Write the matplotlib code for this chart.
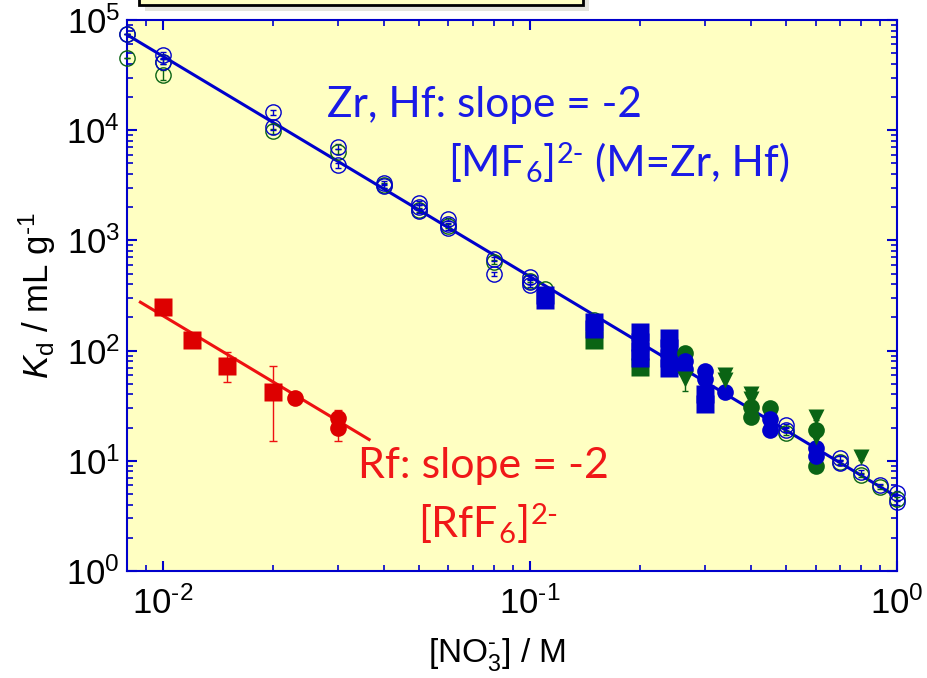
"""Kd vs nitrate concentration for Zr, Hf and Rf (log-log)."""

import math

import matplotlib

matplotlib.use("Agg")
import matplotlib.pyplot as plt
from matplotlib.patches import Rectangle
from matplotlib.ticker import FuncFormatter, NullFormatter

# ---- data ------------------------------------------------------------------
# fitted slope lines (end points)
zrhf_fit_x = [0.008, 1.0]
zrhf_fit_y = [73500, 4.7]
rf_fit_x = [0.0087, 0.0365]
rf_fit_y = [275, 15.6]

# Rf
rf_sq_x = [0.010, 0.012, 0.015, 0.020]
rf_sq_y = [251, 126, 72, 42]
rf_sq_lo = [0, 0, 20, 27]
rf_sq_hi = [0, 0, 26, 31]
rf_ci_x = [0.023, 0.030, 0.030]
rf_ci_y = [37, 24.5, 20]
rf_ci_lo = [0, 0, 5]
rf_ci_hi = [0, 4.5, 0]

# Zr / Hf, open circles (blue and green)
blue_open_x = [0.008, 0.01, 0.01, 0.02, 0.02, 0.03, 0.03, 0.04, 0.04, 0.05, 0.05, 0.05,
               0.06, 0.06, 0.06, 0.08, 0.08, 0.1, 0.1, 0.1, 0.5, 0.5, 0.7, 0.7, 0.8,
               0.9, 1.0, 1.0]
blue_open_y = [74000, 48000, 42000, 14500, 10700, 7100, 4800, 3300, 3100, 2200, 2000, 1850,
               1550, 1400, 1300, 680, 500, 470, 420, 390, 21, 19, 10.6, 9.6, 7.9,
               6.0, 5.1, 4.2]
blue_open_err = [0, 3000, 2500, 900, 600, 400, 250, 150, 120, 90, 80, 70,
                 60, 50, 50, 30, 20, 20, 15, 15, 0.8, 0.7, 0.4, 0.4, 0.3,
                 0.2, 0.2, 0.2]

green_open_x = [0.008, 0.008, 0.01, 0.01, 0.02, 0.03, 0.04, 0.05, 0.06, 0.08, 0.1,
                0.11, 0.15, 0.5, 0.7, 0.8, 0.9, 1.0]
green_open_y = [74000, 45000, 42000, 32000, 9800, 6400, 3150, 1900, 1350, 640, 430,
                360, 190, 18, 9.8, 7.5, 5.8, 4.5]
green_open_err = [0, 0, 2500, 3500, 500, 350, 150, 80, 60, 25, 15,
                  15, 8, 0.7, 0.4, 0.3, 0.2, 0.2]

# Zr / Hf, filled squares
blue_sq_x = [0.11, 0.11, 0.15, 0.15, 0.2, 0.2, 0.2, 0.2, 0.24, 0.24, 0.24, 0.24, 0.3, 0.3]
blue_sq_y = [320, 290, 180, 158, 148, 120, 100, 85, 130, 105, 85, 70, 40, 33]
green_sq_x = [0.15, 0.2]
green_sq_y = [126, 71]

# Zr / Hf, filled circles
green_ci_x = [0.265, 0.4, 0.4, 0.45, 0.6, 0.6]
green_ci_y = [96, 31, 25, 30, 19, 9]
green_ci_err = [0, 3, 3, 2, 1.5, 1]
blue_ci_x = [0.265, 0.265, 0.3, 0.3, 0.34, 0.45, 0.45, 0.6, 0.6]
blue_ci_y = [80, 68, 65, 55, 42, 24, 19, 13, 11]
blue_ci_err = [0, 0, 4, 0, 5, 0, 1.5, 0, 0]

# Zr / Hf, filled down-triangles
green_tri_x = [0.265, 0.34, 0.34, 0.4, 0.4, 0.6, 0.6, 0.8]
green_tri_y = [55, 60, 54, 40, 36, 25, 16.5, 10.8]
green_tri_err = [12, 4, 0, 3, 0, 1.5, 0, 0.6]

# ---- styling ----------------------------------------------------------------
BLUE = "#0000CC"
GREEN = "#0A6414"
RED = "#DD0000"
BG = "#FFFFC2"

plt.rcParams["font.family"] = ["Liberation Sans", "DejaVu Sans"]
plt.rcParams["mathtext.fontset"] = "custom"
plt.rcParams["mathtext.rm"] = "Liberation Sans"
plt.rcParams["mathtext.it"] = "Liberation Sans:italic"
plt.rcParams["mathtext.default"] = "regular"

W, H = 927, 678
fig = plt.figure(figsize=(W / 100, H / 100), dpi=100)
ax = fig.add_axes([127 / W, 107 / H, 770 / W, 551 / H])
ax.set_facecolor(BG)

# cut-off legend box at the top
fig.patches.append(Rectangle((145 / W, (H - 11) / H), 444 / W, 30 / H, transform=fig.transFigure,
                             facecolor="#E4E4DC", edgecolor="none", zorder=0))
fig.patches.append(Rectangle((139 / W, (H - 5) / H), 444 / W, 30 / H, transform=fig.transFigure,
                             facecolor=BG, edgecolor="black", linewidth=2, zorder=1))

ax.set_xscale("log")
ax.set_yscale("log")
ax.set_xlim(0.008, 1.0)
ax.set_ylim(1, 1e5)

# lines
ax.plot(zrhf_fit_x, zrhf_fit_y, color=BLUE, lw=2.2, zorder=3)
ax.plot(rf_fit_x, rf_fit_y, color="#EE1111", lw=2.2, zorder=3)

# open circles
ax.errorbar(green_open_x, green_open_y, yerr=green_open_err, fmt="o", ms=11, mfc="none",
            mec=GREEN, mew=1.0, ecolor=GREEN, elinewidth=1, capsize=2.5, zorder=4, clip_on=False)
ax.errorbar(blue_open_x, blue_open_y, yerr=blue_open_err, fmt="o", ms=11, mfc="none",
            mec=BLUE, mew=1.0, ecolor=BLUE, elinewidth=1, capsize=2.5, zorder=4, clip_on=False)

# filled markers
ax.plot(green_sq_x, green_sq_y, "s", ms=13.5, color=GREEN, mec="none", zorder=5)
ax.plot(blue_sq_x, blue_sq_y, "s", ms=13.5, color=BLUE, mec="none", zorder=5)
ax.errorbar(green_ci_x, green_ci_y, yerr=green_ci_err, fmt="o", ms=12, color=GREEN, mec="none",
            elinewidth=1, capsize=2.5, zorder=5)
ax.errorbar(blue_ci_x, blue_ci_y, yerr=blue_ci_err, fmt="o", ms=12, color=BLUE, mec="none",
            elinewidth=1, capsize=2.5, zorder=6)
ax.errorbar(green_tri_x, green_tri_y, yerr=green_tri_err, fmt="v", ms=12, color=GREEN, mec="none",
            elinewidth=1, capsize=2.5, zorder=6)

# Rf
ax.errorbar(rf_sq_x, rf_sq_y, yerr=[rf_sq_lo, rf_sq_hi], fmt="s", ms=13.5, color=RED, mec="none",
            ecolor="#EE1111", elinewidth=1, capsize=3, zorder=5)
ax.errorbar(rf_ci_x, rf_ci_y, yerr=[rf_ci_lo, rf_ci_hi], fmt="o", ms=12, color=RED, mec="none",
            ecolor="#EE1111", elinewidth=1, capsize=3, zorder=5)


def pow10(v, pos):
    # hyphen instead of the long math minus, like the original figure
    return "$10^{\\text{%d}}$" % round(math.log10(v))


# axes look
for sp in ax.spines.values():
    sp.set_color(BLUE)
    sp.set_linewidth(1.5)
for axis in (ax.xaxis, ax.yaxis):
    axis.set_major_formatter(FuncFormatter(pow10))
    axis.set_minor_formatter(NullFormatter())
ax.tick_params(which="both", direction="in", top=True, right=True, color=BLUE,
               labelsize=25, labelcolor="black")
ax.tick_params(which="major", length=7, width=1.5)
ax.tick_params(which="minor", length=4, width=1.2)
ax.tick_params(axis="x", pad=11)
ax.tick_params(axis="y", pad=5)

ax.set_xlabel("[NO$_3^{\\text{-}}$] / M", fontsize=24)
ax.xaxis.set_label_coords(0.48, -0.118)
ax.set_ylabel("$\\mathit{K}_{\\rm d}$ / mL g$^{\\text{-}1}$", fontsize=25, labelpad=6)


def rich_text(x, y, parts, size, color, family="Lato"):
    """Place text pieces one after another; parts are (text, kind, gap_px)."""
    renderer = fig.canvas.get_renderer()
    for s, kind, gap in parts:
        x += gap
        fs = size if kind == "" else size * 0.68
        dy = 0 if kind == "" else (-0.2 * size if kind == "sub" else 0.42 * size)
        t = fig.text(x / W, (H - y + dy) / H, s, fontsize=fs, color=color,
                     family=family, va="baseline", ha="left")
        x += t.get_window_extent(renderer).width


rich_text(327, 117, [("Zr, Hf: slope = -2", "", 0)], 30.5, "#1A1AE6")
rich_text(448, 176, [("[MF", "", 0), ("6", "sub", 1), ("]", "", 1), ("2-", "sup", 1),
                     ("(M=Zr, Hf)", "", 11)], 30.5, "#1A1AE6")
rich_text(358, 478, [("Rf: slope = -2", "", 0)], 31, "#F01818")
rich_text(418, 537, [("[RfF", "", 0), ("6", "sub", 1), ("]", "", 1), ("2-", "sup", 1)],
          31, "#F01818")

fig.savefig("out.png", dpi=100)
